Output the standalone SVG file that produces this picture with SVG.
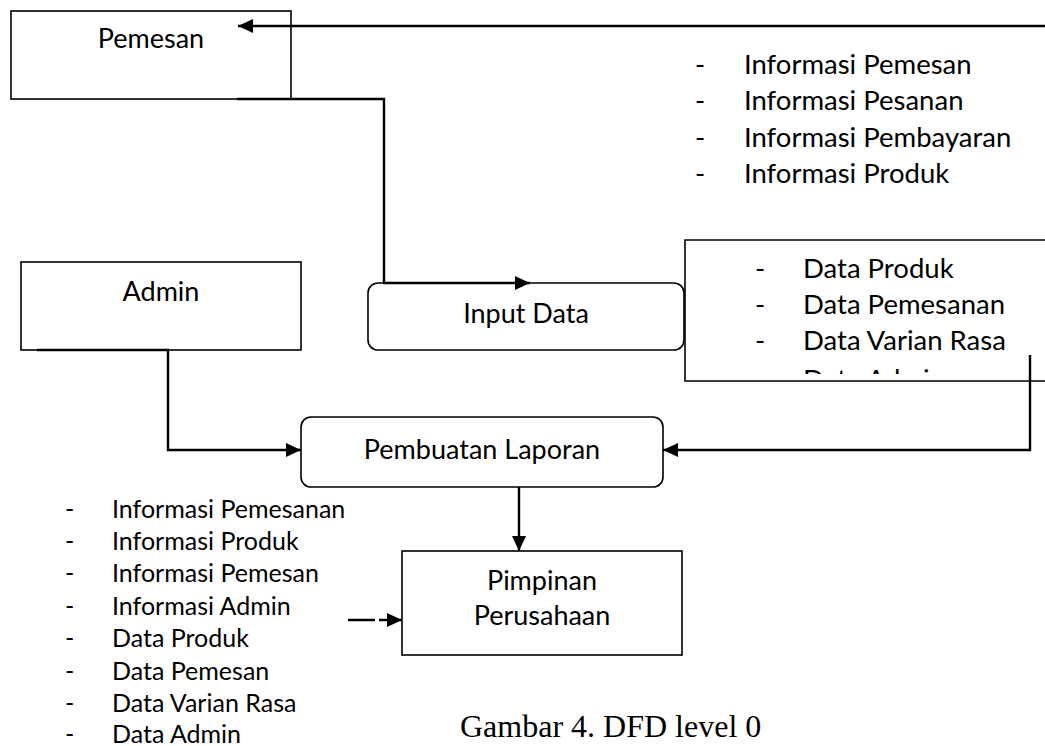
<svg xmlns="http://www.w3.org/2000/svg" width="1045" height="746" viewBox="0 0 1045 746">
  <style>
    .box { fill: #fff; stroke: #000; stroke-width: 1.6; }
    .wire { fill: none; stroke: #000; stroke-width: 2.4; }
    .lbl { font-family: Lato, "Liberation Sans", sans-serif; font-size: 27px; fill: #000; text-anchor: middle; }
    .lst { font-family: Lato, "Liberation Sans", sans-serif; font-size: 27.5px; fill: #000; }
    .lsts { font-family: Lato, "Liberation Sans", sans-serif; font-size: 25px; fill: #000; }
    .cap { font-family: "Liberation Serif", "Times New Roman", serif; font-size: 32px; fill: #000; }
  </style>
  <defs>
    <marker id="arrow" viewBox="0 0 15 14" refX="15" refY="7" markerWidth="15" markerHeight="14" markerUnits="userSpaceOnUse" orient="auto">
      <path d="M0,0 L15,7 L0,14 z" fill="#000"/>
    </marker>
    <!-- text frame of the data store: the last line runs past its bottom edge -->
    <clipPath id="storeClip">
      <rect x="686" y="241" width="359" height="133"/>
    </clipPath>
  </defs>

  <rect width="1045" height="746" fill="#fff"/>

  <!-- external entity: Pemesan -->
  <g id="pemesan">
    <rect class="box" x="11" y="11" width="280" height="88"/>
    <text class="lbl" x="151" y="48">Pemesan</text>
  </g>

  <!-- external entity: Admin -->
  <g id="admin">
    <rect class="box" x="21" y="262" width="280" height="88"/>
    <text class="lbl" x="161" y="301">Admin</text>
  </g>

  <!-- process: Input Data -->
  <g id="input-data">
    <rect class="box" x="368" y="283" width="316" height="67" rx="10" ry="10"/>
    <text class="lbl" x="526" y="323">Input Data</text>
  </g>

  <!-- data store (open on the right) -->
  <g id="data-store">
    <path class="box" d="M1045,240 H685 V381 H1045" fill="#fff"/>
    <g clip-path="url(#storeClip)">
      <text class="lst" x="755" y="278">-</text><text class="lst" x="803" y="278">Data Produk</text>
      <text class="lst" x="755" y="314">-</text><text class="lst" x="803" y="314">Data Pemesanan</text>
      <text class="lst" x="755" y="350">-</text><text class="lst" x="803" y="350">Data Varian Rasa</text>
      <text class="lst" x="755" y="389">-</text><text class="lst" x="803" y="389">Data Admin</text>
    </g>
  </g>

  <!-- process: Pembuatan Laporan -->
  <g id="pembuatan-laporan">
    <rect class="box" x="301" y="417" width="362" height="70" rx="10" ry="10"/>
    <text class="lbl" x="482" y="459">Pembuatan Laporan</text>
  </g>

  <!-- external entity: Pimpinan Perusahaan -->
  <g id="pimpinan">
    <rect class="box" x="402" y="551" width="280" height="104"/>
    <text class="lbl" x="542" y="590">Pimpinan</text>
    <text class="lbl" x="542" y="625">Perusahaan</text>
  </g>

  <!-- flow labels -->
  <g id="flow-info-pemesan">
    <text class="lst" x="695" y="74">-</text><text class="lst" x="744" y="74">Informasi Pemesan</text>
    <text class="lst" x="695" y="110">-</text><text class="lst" x="744" y="110">Informasi Pesanan</text>
    <text class="lst" x="695" y="147">-</text><text class="lst" x="744" y="147">Informasi Pembayaran</text>
    <text class="lst" x="695" y="183">-</text><text class="lst" x="744" y="183">Informasi Produk</text>
  </g>

  <g id="flow-laporan">
    <text class="lsts" x="65" y="518">-</text><text class="lsts" x="112" y="518">Informasi Pemesanan</text>
    <text class="lsts" x="65" y="550">-</text><text class="lsts" x="112" y="550">Informasi Produk</text>
    <text class="lsts" x="65" y="582">-</text><text class="lsts" x="112" y="582">Informasi Pemesan</text>
    <text class="lsts" x="65" y="615">-</text><text class="lsts" x="112" y="615">Informasi Admin</text>
    <text class="lsts" x="65" y="647">-</text><text class="lsts" x="112" y="647">Data Produk</text>
    <text class="lsts" x="65" y="680">-</text><text class="lsts" x="112" y="680">Data Pemesan</text>
    <text class="lsts" x="65" y="712">-</text><text class="lsts" x="112" y="712">Data Varian Rasa</text>
    <text class="lsts" x="65" y="743">-</text><text class="lsts" x="112" y="743">Data Admin</text>
  </g>

  <!-- connectors -->
  <g id="connectors">
    <path class="wire" d="M1045,26 H238" marker-end="url(#arrow)"/>
    <path class="wire" d="M237,99 H384 V283 H530" marker-end="url(#arrow)"/>
    <path class="wire" d="M1030,355 V450 H663" marker-end="url(#arrow)"/>
    <path class="wire" d="M37,350 H168 V450 H301" marker-end="url(#arrow)"/>
    <path class="wire" d="M519,487 V551" marker-end="url(#arrow)"/>
    <path class="wire" d="M348,620 H375 M379,620 H402" marker-end="url(#arrow)"/>
  </g>

  <text class="cap" x="460" y="737">Gambar 4. DFD level 0</text>
</svg>
